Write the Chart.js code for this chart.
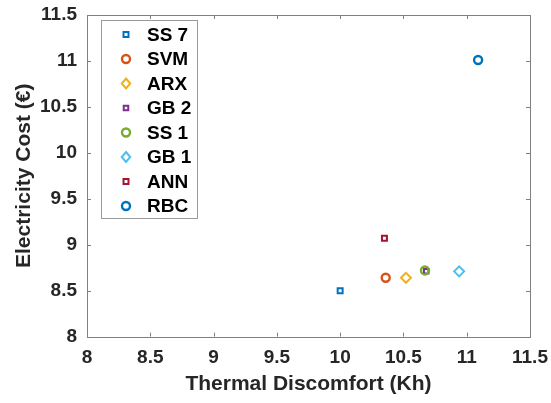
<!DOCTYPE html>
<html><head><meta charset="utf-8">
<script src="https://cdn.jsdelivr.net/npm/chart.js@4/dist/chart.umd.min.js"></script>
<style>html,body{margin:0;padding:0;background:#fff}#wrap{width:551px;height:403px}</style>
</head><body><div id="wrap"><canvas id="c" width="551" height="403"></canvas></div>
<script>
const labels = ["SS 7","SVM","ARX","GB 2","SS 1","GB 1","ANN","RBC"];
const discomfort = [10.00, 10.36, 10.52, 10.68, 10.67, 10.94, 10.35, 11.09];
const cost = [8.50, 8.64, 8.64, 8.71, 8.72, 8.71, 9.07, 11.01];
const colors = ["#0072BD","#D95319","#EDB120","#7E2F8E","#77AC30","#4DBEEE","#A2142F","#0072BD"];
const styles = ["rect","circle","rectRot","rect","circle","rectRot","rect","circle"];
const radii = [3.5,4,5,3.2,4,5,3.5,4];
const tickVals = [8,8.5,9,9.5,10,10.5,11,11.5];

const FONT = "'Liberation Sans', Arial, sans-serif";
const AX = "#808080";
const TXT = "#262626";

function drawMarker(ctx, style, x, y, r, color, bw){
  ctx.save();
  ctx.strokeStyle = color; ctx.lineWidth = bw;
  ctx.beginPath();
  if(style==="circle"){ ctx.arc(x,y,r,0,Math.PI*2); }
  else if(style==="rect"){ const s=r*Math.SQRT1_2; ctx.rect(x-s,y-s,2*s,2*s); }
  else { ctx.moveTo(x,y-r); ctx.lineTo(x+r*0.85,y); ctx.lineTo(x,y+r); ctx.lineTo(x-r*0.85,y); ctx.closePath(); }
  ctx.stroke(); ctx.restore();
}

const boxPlugin = {
  id:'box',
  afterDraw(chart){
    const {ctx, chartArea:a, scales} = chart;
    ctx.save();
    ctx.strokeStyle = AX; ctx.lineWidth = 1;
    ctx.strokeRect(Math.round(a.left)+0.5, Math.round(a.top)+0.5, Math.round(a.right-a.left), Math.round(a.bottom-a.top));
    const tl = 4;
    ctx.beginPath();
    tickVals.forEach(v=>{
      const x = Math.round(scales.x.getPixelForValue(v))+0.5;
      ctx.moveTo(x,a.bottom); ctx.lineTo(x,a.bottom-tl);
      ctx.moveTo(x,a.top); ctx.lineTo(x,a.top+tl);
      const y = Math.round(scales.y.getPixelForValue(v))+0.5;
      ctx.moveTo(a.left,y); ctx.lineTo(a.left+tl,y);
      ctx.moveTo(a.right,y); ctx.lineTo(a.right-tl,y);
    });
    ctx.stroke();
    // legend
    const lx=101, ly=20, lw=96, lh=198;
    ctx.fillStyle="#fff"; ctx.fillRect(lx,ly,lw,lh);
    ctx.strokeStyle="#9a9a9a"; ctx.strokeRect(lx+0.5,ly+0.5,lw,lh);
    ctx.font = "bold 19px " + FONT;
    ctx.fillStyle = "#000"; ctx.textBaseline="middle"; ctx.textAlign="left";
    chart.data.datasets.forEach((ds,i)=>{
      const y = 34.5 + i*24.5;
      drawMarker(ctx, styles[i], 126, y, radii[i], colors[i], ds.pointBorderWidth);
      ctx.fillText(ds.label, 147, y+1);
    });
    ctx.restore();
  }
};

const datasets = labels.map((l,i)=>({
  label:l,
  data:[{x:discomfort[i], y:cost[i]}],
  pointStyle:styles[i],
  pointRadius:radii[i],
  pointHoverRadius:radii[i],
  pointBorderColor:colors[i],
  pointBackgroundColor:'rgba(0,0,0,0)',
  pointBorderWidth: styles[i]==="circle"?2.4:2,
  showLine:false,
  order: labels.length - i
}));

new Chart(document.getElementById('c'), {
  type:'scatter',
  data:{datasets},
  plugins:[boxPlugin],
  options:{
    responsive:false, animation:false, devicePixelRatio:1,
    layout:{padding:{top:15,right:21,left:0,bottom:0}},
    plugins:{legend:{display:false}, tooltip:{enabled:false}},
    scales:{
      x:{
        type:'linear', min:8, max:11.5,
        afterBuildTicks(s){ s.ticks = tickVals.map(v=>({value:v})); },
        afterFit(s){ s.height = 66.4; s.paddingRight = 0; s.paddingLeft = 0; },
        grid:{display:false, drawTicks:false},
        border:{display:false},
        ticks:{padding:10, color:TXT, font:{family:FONT, size:19, weight:'bold'}, maxRotation:0, autoSkip:false,
          callback:v=>String(v)},
        title:{display:true, text:'Thermal Discomfort (Kh)', color:TXT, font:{family:FONT, size:21, weight:'bold'}, padding:{top:0,bottom:6}}
      },
      y:{
        type:'linear', min:8, max:11.5,
        afterBuildTicks(s){ s.ticks = tickVals.map(v=>({value:v})); },
        afterFit(s){ s.width = 87; s.paddingTop = 0; s.paddingBottom = 0; },
        grid:{display:false, drawTicks:false},
        border:{display:false},
        ticks:{padding:10, color:TXT, font:{family:FONT, size:19, weight:'bold'}, autoSkip:false,
          callback:v=>String(v)},
        title:{display:true, text:'Electricity Cost (€)', color:TXT, font:{family:FONT, size:21, weight:'bold'}, padding:{top:12,bottom:0}}
      }
    }
  }
});
</script></body></html>
